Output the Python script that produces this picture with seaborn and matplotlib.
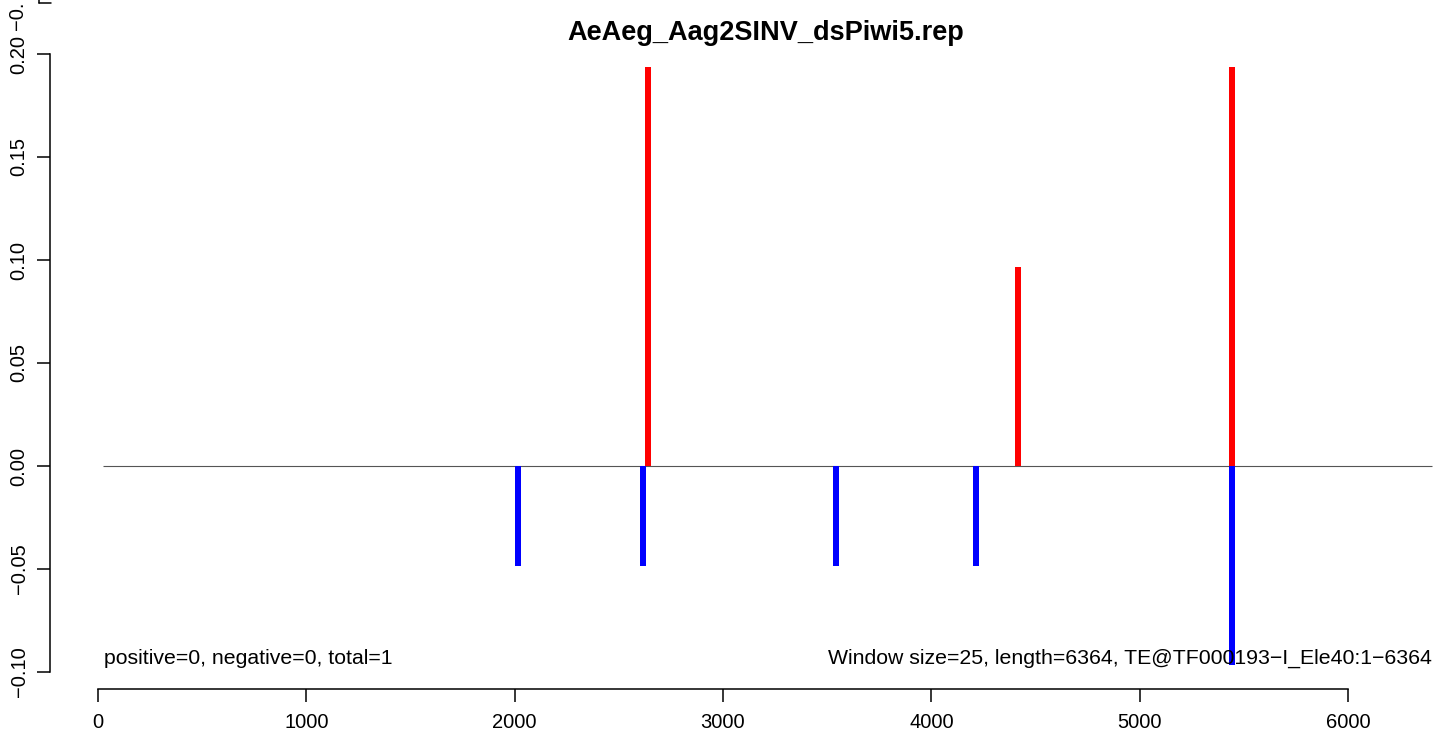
import matplotlib
matplotlib.use("Agg")
import matplotlib.pyplot as plt
from matplotlib.lines import Line2D
import seaborn as sns

# ---- data ----
title = "AeAeg_Aag2SINV_dsPiwi5.rep"
pos_x = [2640, 4416, 5443]
pos_y = [0.1936, 0.0968, 0.1936]
neg_x = [2016, 2616, 3542, 4214, 5443]
neg_y = [-0.0484, -0.0484, -0.0484, -0.0484, -0.0968]
baseline_range = [25, 6405]
xticks = [0, 1000, 2000, 3000, 4000, 5000, 6000]
yticks = [-0.10, -0.05, 0.00, 0.05, 0.10, 0.15, 0.20]
ytick_labels = ["\u22120.10", "\u22120.05", "0.00", "0.05", "0.10", "0.15", "0.20"]
left_note = "positive=0, negative=0, total=1"
right_note = "Window size=25, length=6364, TE@TF000193\u2212I_Ele40:1\u22126364"

sns.set_style("ticks")
plt.rcParams['font.family'] = ['Liberation Sans', 'DejaVu Sans']
plt.rcParams['text.color'] = 'black'
plt.rcParams['xtick.color'] = 'black'
plt.rcParams['ytick.color'] = 'black'
plt.rcParams['xtick.labelcolor'] = 'black'
plt.rcParams['ytick.labelcolor'] = 'black'

W, H = 1439, 740
fig = plt.figure(figsize=(W / 100, H / 100), dpi=100)

left_px, right_px, bottom_px, top_px = 50, 1439, 689, 30
ax = fig.add_axes([left_px / W, (H - bottom_px) / H,
                   (right_px - left_px) / W, (bottom_px - top_px) / H])

x0_px, xscale = 98, 1250 / 6000
y0_px, yscale = 466, 2060
ax.set_xlim((left_px - x0_px) / xscale, (right_px - x0_px) / xscale)
ax.set_ylim(-(bottom_px - y0_px) / yscale, (y0_px - top_px) / yscale)

ax.hlines(0, baseline_range[0], baseline_range[1], color="#555555", lw=0.8, zorder=1)
bar_lw = 6 * 72 / 100
ax.vlines(pos_x, 0, pos_y, color="#ff0000", lw=bar_lw, capstyle="butt", zorder=2)
ax.vlines(neg_x, 0, neg_y, color="#0000ff", lw=bar_lw, capstyle="butt", zorder=2)

for s in ["top", "right"]:
    ax.spines[s].set_visible(False)
ax.spines["left"].set_bounds(-0.10, 0.20)
ax.spines["bottom"].set_bounds(0, 6000)
for s in ["left", "bottom"]:
    ax.spines[s].set_linewidth(1.1)
    ax.spines[s].set_color("black")

ax.set_xticks(xticks)
ax.set_xticklabels([str(v) for v in xticks])
ax.set_yticks(yticks)
ax.set_yticklabels(ytick_labels, rotation=90, va="center")
ax.tick_params(axis="both", length=9.4, width=1.1, color="black",
               labelcolor="black", labelsize=14.5, direction="out")
ax.tick_params(axis="x", pad=8)
ax.tick_params(axis="y", pad=6)
ax.grid(False)

ax.text(29, -0.0935, left_note, ha="left", va="center", fontsize=15.3, color="black")
ax.text(6404, -0.0935, right_note, ha="right", va="center", fontsize=15.3, color="black")

fig.text(766 / W, (H - 33) / H, title, ha="center", va="center",
         fontsize=19.5, fontweight="bold", color="black")

# remnant of an adjacent panel at the top-left edge
fig.text(18 / W, (H - 16) / H, "\u22120.", rotation=90, ha="center", va="center",
         fontsize=14.5, color="black")
fig.add_artist(Line2D([39 / W, 39 / W], [1.0, (H - 2.5) / H], color="black", lw=1.1,
                      transform=fig.transFigure))
fig.add_artist(Line2D([39 / W, 51 / W], [(H - 2.5) / H, (H - 2.5) / H], color="black", lw=1.1,
                      transform=fig.transFigure))

fig.savefig("out.png", dpi=100, facecolor="white")
